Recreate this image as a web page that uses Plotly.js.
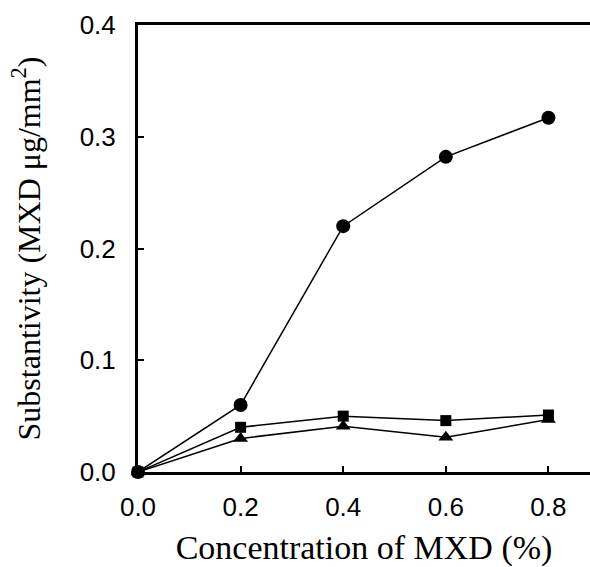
<!DOCTYPE html>
<html>
<head>
<meta charset="utf-8">
<script src="https://cdn.plot.ly/plotly-3.0.1.min.js"></script>
<style>html,body{margin:0;padding:0;background:#fff;}#chart{width:590px;height:567px;}</style>
</head>
<body>
<div id="chart"></div>
<script>
const concentration = [0.0, 0.2, 0.4, 0.6, 0.8];
const seriesCircle = [0.0, 0.060, 0.220, 0.282, 0.317];
const seriesSquare = [0.0, 0.040, 0.050, 0.046, 0.051];
const seriesTriangle = [0.0, 0.030, 0.041, 0.031, 0.047];
const xTickVals = [0.0, 0.2, 0.4, 0.6, 0.8];
const xTickText = ["0.0", "0.2", "0.4", "0.6", "0.8"];
const yTickVals = [0.0, 0.1, 0.2, 0.3, 0.4];
const yTickText = ["0.0", "0.1", "0.2", "0.3", "0.4"];

function tr(y, sym, size) {
  return {
    x: concentration, y: y, type: 'scatter', mode: 'lines+markers',
    line: {color: '#000', width: 1.5},
    marker: {symbol: sym, size: size, color: '#000'},
    cliponaxis: false, showlegend: false, hoverinfo: 'skip'
  };
}
const data = [
  tr(seriesTriangle, 'triangle-up', 13),
  tr(seriesSquare, 'square', 11),
  tr(seriesCircle, 'circle', 14)
];
const tickFont = {family: 'Liberation Sans, Arial, sans-serif', size: 26, color: '#000'};
const xTitleFont = {family: 'Liberation Serif, Times New Roman, serif', size: 34, color: '#000'};
const yTitleFont = {family: 'Liberation Serif, Times New Roman, serif', size: 32, color: '#000'};
const layout = {
  width: 590, height: 567,
  margin: {l: 138, r: 0, t: 25, b: 95, pad: 0},
  paper_bgcolor: '#fff', plot_bgcolor: '#fff',
  showlegend: false,
  xaxis: {
    range: [0, 0.881], tickvals: xTickVals, ticktext: xTickText,
    ticks: 'inside', ticklen: 6, tickwidth: 2, tickcolor: '#000',
    showline: true, linecolor: '#000', linewidth: 3, mirror: true,
    showgrid: false, zeroline: false, tickfont: tickFont,
    ticklabelstandoff: 10,
    title: {text: 'Concentration of MXD (%)', font: xTitleFont, standoff: 20}
  },
  yaxis: {
    range: [0, 0.4], tickvals: yTickVals, ticktext: yTickText,
    ticks: 'inside', ticklen: 6, tickwidth: 2, tickcolor: '#000',
    showline: true, linecolor: '#000', linewidth: 3,
    showgrid: false, zeroline: false, tickfont: tickFont,
    ticklabelstandoff: 14,
    title: {text: 'Substantivity (MXD μg/mm<sup>2</sup>)', font: yTitleFont, standoff: 30}
  }
};
Plotly.newPlot('chart', data, layout, {displayModeBar: false, staticPlot: true});
</script>
</body>
</html>
